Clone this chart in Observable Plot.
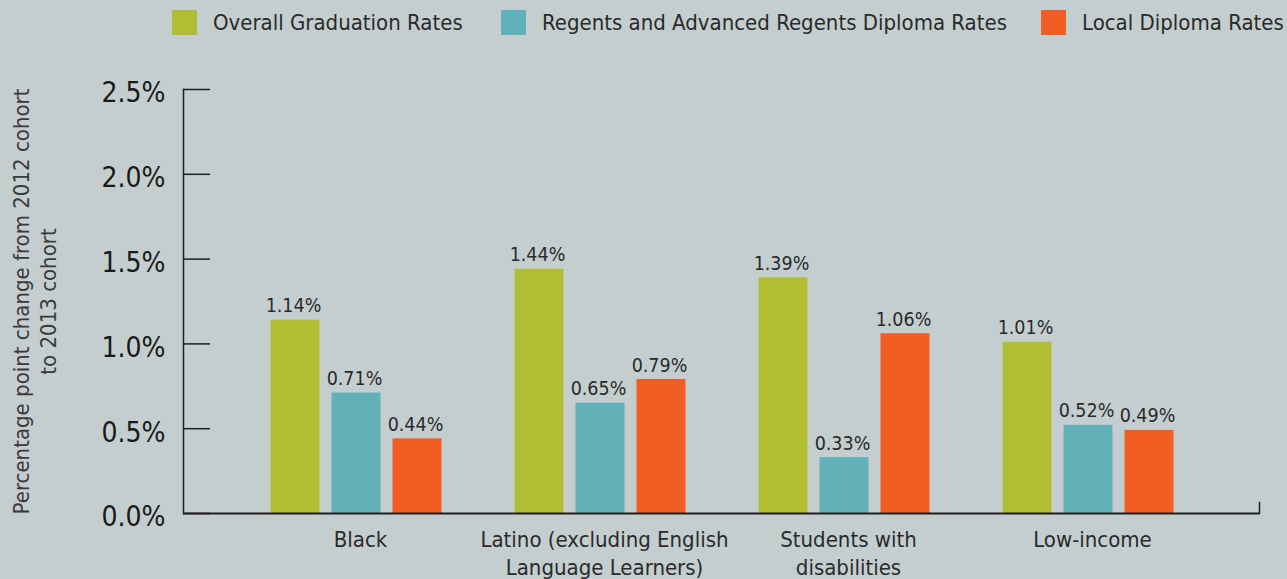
<!DOCTYPE html>
<html>
<head>
<meta charset="utf-8">
<script src="https://cdn.jsdelivr.net/npm/d3@7"></script>
<script src="https://cdn.jsdelivr.net/npm/@observablehq/plot@0.6"></script>
<style>
  html, body { margin: 0; padding: 0; background: #c5cecf; }
  body { width: 1287px; height: 579px; overflow: hidden; font-family: "Liberation Sans Narrow", "DejaVu Sans Condensed", "Roboto", sans-serif; color: #2a2a2a; }
  #legend { position: relative; height: 50px; }
  .item { position: absolute; top: 10px; display: flex; align-items: center; font-size: 22px; line-height: 25px; white-space: nowrap; }
  .sw { width: 25px; height: 25px; margin-right: 16px; flex: none; }
</style>
</head>
<body>
<div id="legend"></div>
<div id="chart"></div>
<script>
// ---- data ----
const groups = ["Black", "Latino (excluding English Language Learners)", "Students with disabilities", "Low-income"];
const groupTickLabels = ["Black", "Latino (excluding English\nLanguage Learners)", "Students with\ndisabilities", "Low-income"];
const seriesNames = ["Overall Graduation Rates", "Regents and Advanced Regents Diploma Rates", "Local Diploma Rates"];
const seriesColors = ["#b1bd33", "#62b1b9", "#f15d23"];
const overallRates = [1.14, 1.44, 1.39, 1.01];
const regentsRates = [0.71, 0.65, 0.33, 0.52];
const localRates = [0.44, 0.79, 1.06, 0.49];
const yTicks = [0, 0.5, 1.0, 1.5, 2.0, 2.5];
const yTitle = "Percentage point change from 2012 cohort\nto 2013 cohort";

const seriesValues = [overallRates, regentsRates, localRates];
const rows = [];
seriesNames.forEach((s, i) => groups.forEach((g, j) => rows.push({group: g, series: s, si: i, value: seriesValues[i][j]})));

// legend
const legendLeft = [172, 501, 1041];
const legend = document.getElementById("legend");
seriesNames.forEach((s, i) => {
  const it = document.createElement("div");
  it.className = "item";
  it.style.left = legendLeft[i] + "px";
  it.innerHTML = `<div class="sw" style="background:${seriesColors[i]}"></div><span>${s}</span>`;
  legend.appendChild(it);
});

const W = 1287, H = 529;
const mL = 183, mR = 28, mT = 39, mB = 66;
const frameW = W - mL - mR;
const offsets = [-61, 0, 61];
const barW = 49;
const step = 244;
const inset = (step - barW) / 2;
const ink = "#1e1e1e";
const fontFamily = '"Liberation Sans Narrow", "DejaVu Sans Condensed", "Roboto", sans-serif';

const barMarks = seriesNames.flatMap((s, i) => [
  Plot.barY(rows.filter(d => d.si === i), {x: "group", y: "value", fill: seriesColors[i], dx: offsets[i], insetLeft: inset, insetRight: inset}),
  Plot.text(rows.filter(d => d.si === i), {x: "group", y: "value", text: d => d.value.toFixed(2) + "%", dx: offsets[i] - 2, dy: -8, lineAnchor: "bottom", fontSize: 19.5, fill: "#2a2a2a"})
]);

const chart = Plot.plot({
  width: W, height: H,
  marginLeft: mL, marginRight: mR, marginTop: mT, marginBottom: mB,
  style: {background: "#c5cecf", fontFamily, color: "#2a2a2a", overflow: "visible"},
  x: {domain: groups, range: [mL + 50.5, mL + 50.5 + step * groups.length], padding: 0, axis: null},
  y: {domain: [0, 2.5], axis: null},
  marks: [
    ...barMarks,
    Plot.axisX({tickSize: 0, tickPadding: 14, fontSize: 22, dx: 4, lineHeight: 1.27, tickFormat: d => groupTickLabels[groups.indexOf(d)], fill: "#2a2a2a", label: null}),
    Plot.axisY({ticks: yTicks, tickSize: 0, tickPadding: 18, fontSize: 28, dy: 4, tickFormat: d => d.toFixed(1) + "%", fill: "#1a1a1a", label: null}),
    Plot.ruleY(yTicks, {stroke: ink, strokeWidth: 1.5, insetRight: frameW - 27}),
    Plot.frame({anchor: "left", stroke: ink, strokeWidth: 1.5}),
    Plot.ruleY([0], {stroke: ink, strokeWidth: 2}),
    Plot.frame({anchor: "right", stroke: ink, strokeWidth: 1.5, insetTop: 413}),
    Plot.text([yTitle], {frameAnchor: "left", dx: -150, rotate: -90, fontSize: 22, lineHeight: 1.22, fill: "#3a3a3a", textAnchor: "middle", lineAnchor: "middle"})
  ]
});
document.getElementById("chart").appendChild(chart);
</script>
</body>
</html>
